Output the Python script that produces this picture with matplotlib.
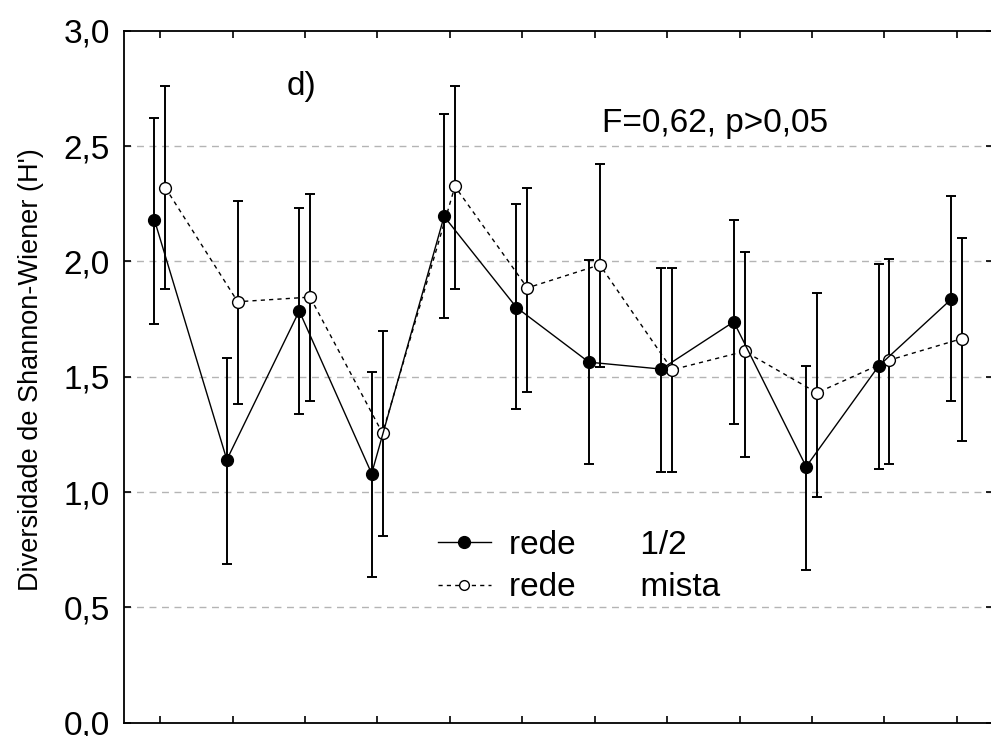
import matplotlib
matplotlib.use("Agg")
import matplotlib.pyplot as plt
from matplotlib.lines import Line2D
import numpy as np

plt.rcParams['font.family'] = ['Liberation Sans', 'DejaVu Sans']

# ---- data ----
categories = list(range(1, 13))
rede12_mean = [2.18, 1.14, 1.785, 1.08, 2.195, 1.80, 1.563, 1.533, 1.738, 1.11, 1.546, 1.835]
rede12_upper = [2.62, 1.58, 2.23, 1.52, 2.64, 2.25, 2.005, 1.97, 2.18, 1.545, 1.99, 2.285]
rede12_lower = [1.73, 0.69, 1.34, 0.63, 1.755, 1.36, 1.12, 1.085, 1.295, 0.66, 1.10, 1.395]
mista_mean = [2.32, 1.825, 1.845, 1.255, 2.325, 1.885, 1.985, 1.53, 1.61, 1.43, 1.572, 1.665]
mista_upper = [2.76, 2.26, 2.29, 1.70, 2.76, 2.32, 2.42, 1.97, 2.04, 1.865, 2.01, 2.10]
mista_lower = [1.88, 1.38, 1.395, 0.81, 1.88, 1.435, 1.54, 1.085, 1.15, 0.98, 1.12, 1.22]
yticks = [0.0, 0.5, 1.0, 1.5, 2.0, 2.5, 3.0]
ytick_labels = ["0,0", "0,5", "1,0", "1,5", "2,0", "2,5", "3,0"]
label_a = "rede       1/2"
label_b = "rede       mista"
panel = "d)"
stat_text = "F=0,62, p>0,05"
ylabel = "Diversidade de Shannon-Wiener (H')"

W, H = 991, 736
fig = plt.figure(figsize=(W / 100, H / 100), dpi=100)
ax = fig.add_axes([124 / W, 1 - 722.7 / H, (993 - 124) / W, (722.7 - 30.7) / H])

x = np.array(categories, dtype=float)
xa = x - 0.08
xb = x + 0.07

ma = np.array(rede12_mean); mb = np.array(mista_mean)
erra = [ma - np.array(rede12_lower), np.array(rede12_upper) - ma]
errb = [mb - np.array(mista_lower), np.array(mista_upper) - mb]

# gridlines
for yv in yticks[1:-1]:
    ax.axhline(yv, color='#b4b4b4', lw=1.0, ls=(0, (5, 4)), zorder=0)

ax.errorbar(xa, ma, yerr=erra, fmt='none', ecolor='black', elinewidth=1.4,
            capsize=3.5, capthick=1.4, zorder=2)
ax.errorbar(xb, mb, yerr=errb, fmt='none', ecolor='black', elinewidth=1.4,
            capsize=3.5, capthick=1.4, zorder=2)

ax.plot(xb, mb, color='black', lw=1.0, ls=(0, (3, 3)), marker='o', markersize=8.5,
        markerfacecolor='white', markeredgecolor='black', markeredgewidth=1.0, zorder=3)
ax.plot(xa, ma, color='black', lw=1.0, ls='-', marker='o', markersize=8.5,
        markerfacecolor='black', markeredgecolor='black', zorder=4)

ax.set_xlim(0.5, 12.5)
ax.set_ylim(0, 3.0)
ax.set_xticks(categories)
ax.set_xticklabels([])
ax.set_yticks(yticks)
ax.set_yticklabels(ytick_labels, fontsize=24)
ax.tick_params(axis='both', direction='in', length=5, width=1.2,
               top=True, right=True, bottom=True, left=True, pad=10)
for s in ax.spines.values():
    s.set_linewidth(1.3)
    s.set_color('black')

ax.text(2.75, 2.72, panel, fontsize=24, ha='left', va='baseline')
ax.text(7.10, 2.56, stat_text, fontsize=24, ha='left', va='baseline')

fig.text(31 / W, 1 - 370 / H, ylabel, rotation=90, fontsize=19.5,
         ha='center', va='center')

handles = [
    Line2D([], [], color='black', lw=1.0, ls='-', marker='o', markersize=8.5,
           markerfacecolor='black'),
    Line2D([], [], color='black', lw=1.0, ls=(0, (3, 3)), marker='o', markersize=7,
           markerfacecolor='white', markeredgewidth=1.0),
]
ax.legend(handles, [label_a, label_b], loc='center left',
          bbox_to_anchor=(438 / W, 1 - 566.5 / H), bbox_transform=fig.transFigure,
          frameon=False, fontsize=24, handlelength=1.58, handletextpad=0.55,
          borderpad=0, borderaxespad=0, labelspacing=0.36, numpoints=1)

fig.savefig("out.png", dpi=100)
